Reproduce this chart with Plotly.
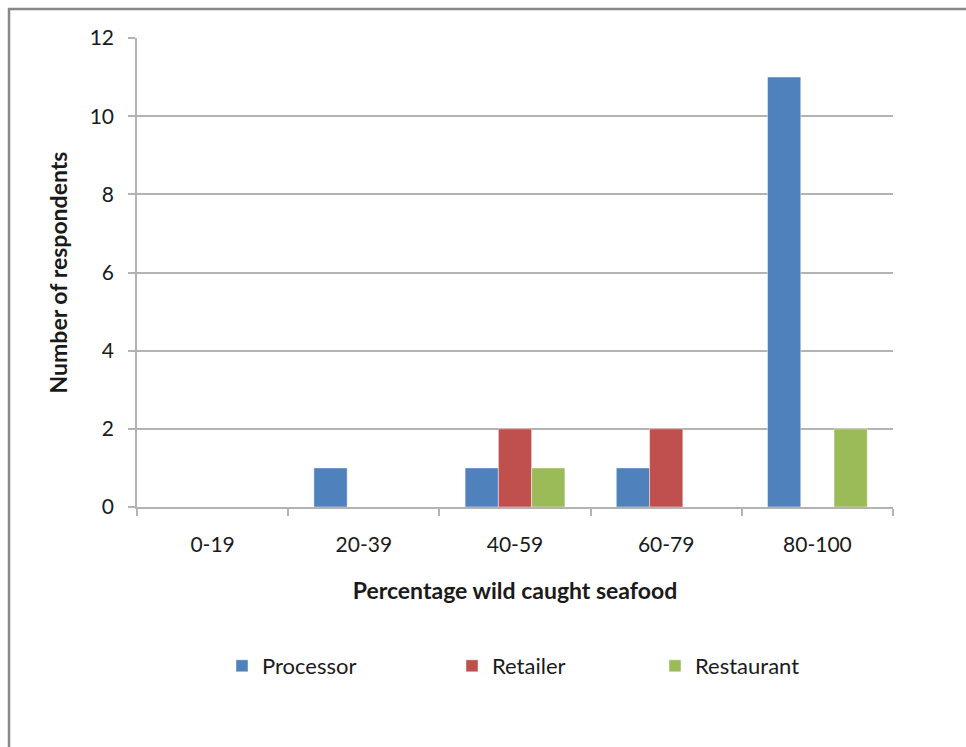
import plotly.graph_objects as go

# Survey counts by share of wild-caught seafood
categories = ["0-19", "20-39", "40-59", "60-79", "80-100"]
processor = [0, 1, 1, 1, 11]
retailer = [0, 0, 2, 2, 0]
restaurant = [0, 0, 1, 0, 2]

series = [
    ("Processor", processor, "#4F81BD", "legend", 222),
    ("Retailer", retailer, "#C0504D", "legend2", 452),
    ("Restaurant", restaurant, "#9BBB59", "legend3", 655),
]

FONT = "Lato, Open Sans, sans-serif"
GRID = "#B3B3B3"

W, H = 966, 747
L, R, T, B = 137, 73, 38, 240
pw, ph = W - L - R, H - T - B
LEGEND_Y = 666

fig = go.Figure()
legends = {}
for name, vals, color, leg, left_px in series:
    fig.add_trace(go.Bar(
        name=name, x=categories, y=vals, legend=leg,
        marker=dict(color=color, line=dict(color="rgba(255,255,255,0.45)", width=1)),
    ))
    legends[leg] = dict(
        orientation="h", x=(left_px - L) / pw, xanchor="left",
        y=(T + ph - LEGEND_Y) / ph, yanchor="middle",
        font=dict(size=22), bgcolor="rgba(0,0,0,0)",
    )

fig.update_layout(
    width=W, height=H,
    margin=dict(l=L, r=R, t=T, b=B),
    paper_bgcolor="white", plot_bgcolor="white",
    barmode="group", bargap=0.34, bargroupgap=0,
    font=dict(family=FONT, size=21, color="#1a1a1a"),
    showlegend=True,
    **legends,
    xaxis=dict(
        type="category", showgrid=False, showline=True, linecolor=GRID, linewidth=1.5,
        ticks="outside", tickson="boundaries", ticklen=7, tickcolor=GRID, tickwidth=1.5,
        tickfont=dict(size=21), ticklabelstandoff=18,
        title=dict(text="<b>Percentage wild caught seafood</b>", font=dict(size=23), standoff=28),
        automargin=False,
    ),
    yaxis=dict(
        range=[0, 12], dtick=2, showgrid=True, gridcolor=GRID, gridwidth=1.5,
        showline=True, linecolor=GRID, linewidth=1.5, zeroline=False,
        ticks="outside", ticklen=7, tickcolor=GRID, tickwidth=1.5,
        tickfont=dict(size=21), ticklabelstandoff=10,
        title=dict(text="<b>Number of respondents</b>", font=dict(size=23), standoff=16),
        automargin=False,
    ),
)

# Outer chart frame (only its top and left edges fall inside the page)
fig.add_shape(
    type="rect", xref="paper", yref="paper",
    x0=(9 - L) / pw, x1=(980 - L) / pw,
    y0=(T + ph - 760) / ph, y1=(T + ph - 9) / ph,
    line=dict(color="#888888", width=2.5), fillcolor="rgba(0,0,0,0)", layer="below",
)

fig.write_html("out.html")
